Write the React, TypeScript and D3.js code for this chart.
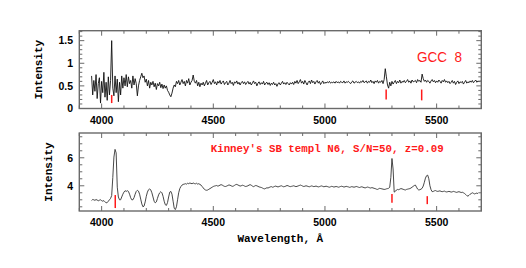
import { useEffect, useRef } from "react";
import * as d3 from "d3";

const WIDTH = 526;
const HEIGHT = 268;

// both spectra are sampled on the same grid, in Angstrom
const LAMBDA_START = 3955;
const LAMBDA_STEP = 5;
const X_DOMAIN = [3900, 5700];
const X_LABELS = [4000, 4500, 5000, 5500];

// GCC 8 observed spectrum (3955 .. 5695 A)
const gccFlux = [
  0.72, 0.30, 0.62, 0.38, 0.75, 0.22, 0.55, 0.68, 0.12, 0.60, 0.35, 0.80, 0.25, 0.58, 0.18, 0.70, 0.30, 0.62, 1.50, 0.45,
  0.28, 0.72, 0.35, 0.65, 0.15, 0.58, 0.30, 0.72, 0.45, 0.68, 0.50, 0.75, 0.48, 0.70, 0.55, 0.62, 0.45, 0.72, 0.52, 0.66,
  0.55, 0.28, 0.50, 0.62, 0.70, 0.78, 0.68, 0.72, 0.58, 0.65, 0.50, 0.62, 0.45, 0.58, 0.52, 0.60, 0.48, 0.56, 0.42, 0.55,
  0.50, 0.58, 0.46, 0.54, 0.44, 0.52, 0.45, 0.50, 0.40, 0.36, 0.30, 0.26, 0.34, 0.45, 0.52, 0.48, 0.60, 0.55, 0.62, 0.52,
  0.58, 0.64, 0.55, 0.60, 0.50, 0.62, 0.56, 0.66, 0.52, 0.58, 0.62, 0.74, 0.60, 0.56, 0.62, 0.50, 0.58, 0.48, 0.56, 0.52,
  0.58, 0.50, 0.56, 0.62, 0.52, 0.57, 0.60, 0.53, 0.58, 0.64, 0.55, 0.59, 0.52, 0.60, 0.56, 0.62, 0.54, 0.58, 0.61, 0.53,
  0.57, 0.60, 0.52, 0.56, 0.62, 0.55, 0.58, 0.51, 0.59, 0.56, 0.61, 0.54, 0.58, 0.52, 0.57, 0.60, 0.55, 0.59, 0.53, 0.57,
  0.60, 0.54, 0.58, 0.52, 0.56, 0.61, 0.55, 0.58, 0.50, 0.56, 0.59, 0.53, 0.57, 0.54, 0.60, 0.52, 0.56, 0.58, 0.53, 0.57,
  0.51, 0.56, 0.53, 0.58, 0.52, 0.55, 0.49, 0.55, 0.57, 0.52, 0.56, 0.60, 0.54, 0.57, 0.53, 0.58, 0.55, 0.52, 0.57, 0.54,
  0.58, 0.53, 0.60, 0.56, 0.62, 0.55, 0.59, 0.64, 0.56, 0.60, 0.54, 0.62, 0.57, 0.52, 0.58, 0.61, 0.55, 0.63, 0.57, 0.60,
  0.54, 0.59, 0.62, 0.56, 0.60, 0.53, 0.57, 0.61, 0.55, 0.58, 0.56, 0.59, 0.57, 0.60, 0.56, 0.58, 0.57, 0.59, 0.56, 0.60,
  0.57, 0.59, 0.56, 0.60, 0.58, 0.57, 0.61, 0.56, 0.59, 0.58, 0.60, 0.57, 0.55, 0.59, 0.61, 0.56, 0.58, 0.60, 0.57, 0.59,
  0.56, 0.60, 0.58, 0.62, 0.57, 0.59, 0.61, 0.56, 0.60, 0.58, 0.63, 0.57, 0.60, 0.55, 0.61, 0.58, 0.62, 0.56, 0.60, 0.58,
  0.62, 0.55, 0.64, 0.88, 0.70, 0.52, 0.45, 0.58, 0.50, 0.60, 0.54, 0.58, 0.62, 0.55, 0.60, 0.57, 0.63, 0.56, 0.60, 0.58,
  0.62, 0.57, 0.60, 0.64, 0.58, 0.61, 0.56, 0.63, 0.59, 0.60, 0.62, 0.57, 0.64, 0.60, 0.62, 0.58, 0.76, 0.66, 0.60, 0.63,
  0.58, 0.62, 0.60, 0.56, 0.61, 0.64, 0.59, 0.62, 0.57, 0.61, 0.58, 0.63, 0.60, 0.56, 0.62, 0.59, 0.64, 0.58, 0.61, 0.57,
  0.60, 0.55, 0.58, 0.62, 0.56, 0.60, 0.53, 0.58, 0.61, 0.55, 0.59, 0.57, 0.60, 0.54, 0.58, 0.62, 0.56, 0.59, 0.57, 0.61,
  0.58, 0.62, 0.57, 0.60, 0.63, 0.58, 0.61, 0.59, 0.62,
];

// Kinney SB template N6 redshifted to z=0.09 (3955 .. 5685 A)
const templateFlux = [
  2.95, 3.02, 3.00, 2.96, 3.02, 2.98, 2.93, 2.97, 3.00, 2.94, 2.90, 2.94, 2.86, 2.78, 2.80, 2.90, 3.00, 3.10, 3.30, 4.60,
  6.05, 6.60, 6.35, 3.90, 3.20, 3.00, 3.00, 3.20, 3.40, 3.55, 3.65, 3.60, 3.65, 3.60, 3.40, 3.15, 3.00, 3.00, 3.15, 3.40,
  3.60, 3.68, 3.62, 3.40, 3.05, 2.70, 2.50, 2.55, 2.85, 3.25, 3.55, 3.72, 3.78, 3.70, 3.50, 3.20, 2.90, 2.78, 2.85, 3.10,
  3.35, 3.50, 3.58, 3.50, 3.25, 2.90, 2.65, 2.60, 2.80, 3.20, 3.55, 3.60, 3.40, 2.90, 2.40, 2.30, 2.50, 3.00, 3.50, 3.80,
  3.95, 4.05, 4.10, 4.12, 4.15, 4.12, 4.18, 4.15, 4.20, 4.17, 4.15, 4.20, 4.16, 4.14, 4.18, 4.12, 4.15, 4.10, 4.05, 3.95,
  3.85, 3.75, 3.70, 3.68, 3.70, 3.75, 3.80, 3.85, 3.90, 3.95, 3.98, 4.00, 4.02, 3.98, 4.00, 4.05, 4.08, 4.05, 4.00, 3.96,
  3.95, 3.98, 4.02, 4.06, 4.04, 4.00, 3.96, 3.98, 4.03, 4.08, 4.10, 4.06, 4.02, 3.98, 4.00, 4.04, 4.02, 3.98, 3.95, 3.97,
  4.00, 4.05, 4.08, 4.04, 3.98, 3.94, 3.98, 4.02, 4.00, 3.96, 3.92, 3.90, 3.88, 3.84, 3.80, 3.78, 3.82, 3.86, 3.84, 3.88,
  3.92, 3.94, 3.90, 3.92, 3.96, 3.98, 3.94, 3.92, 3.95, 3.98, 4.00, 3.96, 3.93, 3.95, 3.98, 4.02, 4.00, 3.96, 3.94, 3.96,
  3.98, 4.00, 3.97, 3.94, 3.96, 3.99, 4.02, 4.05, 4.02, 3.98, 3.95, 3.97, 4.00, 3.98, 3.95, 3.93, 3.96, 3.99, 3.97, 3.94,
  3.96, 3.98, 3.95, 3.92, 3.94, 3.97, 3.99, 3.96, 3.93, 3.95, 3.97, 3.95, 3.92, 3.90, 3.93, 3.96, 3.94, 3.91, 3.93, 3.95,
  3.93, 3.90, 3.92, 3.95, 3.97, 3.94, 3.91, 3.93, 3.96, 3.94, 3.92, 3.89, 3.91, 3.94, 3.92, 3.90, 3.92, 3.95, 3.93, 3.90,
  3.88, 3.91, 3.93, 3.90, 3.87, 3.85, 3.88, 3.91, 3.89, 3.86, 3.84, 3.87, 3.85, 3.82, 3.80, 3.76, 3.74, 3.78, 3.82, 3.80,
  3.78, 3.76, 3.74, 3.75, 3.78, 3.80, 3.82, 3.90, 4.60, 5.95, 5.20, 3.55, 3.60, 3.70, 3.74, 3.72, 3.76, 3.80, 3.78, 3.75,
  3.72, 3.70, 3.74, 3.76, 3.78, 3.80, 3.84, 3.90, 3.96, 4.02, 4.05, 3.90, 3.76, 3.70, 3.72, 3.76, 3.82, 3.98, 4.25, 4.55,
  4.72, 4.76, 4.50, 4.00, 3.72, 3.58, 3.60, 3.64, 3.66, 3.62, 3.60, 3.62, 3.64, 3.60, 3.58, 3.60, 3.62, 3.58, 3.56, 3.58,
  3.60, 3.58, 3.55, 3.57, 3.60, 3.58, 3.55, 3.53, 3.56, 3.58, 3.55, 3.52, 3.54, 3.50, 3.45, 3.38, 3.30, 3.26, 3.32, 3.40,
  3.45, 3.50, 3.46, 3.42, 3.45, 3.48, 3.44,
];

// emission line markers ([OII], Hbeta, [OIII]) : wavelength and y extent
const gccLines = [4045, 5274, 5433];
const gccLineSpans = [[0.12, 0.30], [0.20, 0.42], [0.18, 0.42]];
const templLines = [4061, 5300, 5458];
const templLineSpans = [[2.41, 3.34], [2.79, 3.41], [2.69, 3.26]];

const gccYLabels = [0, 0.5, 1, 1.5];
const templYLabels = [4, 6];

const LEFT = 79.3;
const RIGHT = 481.3;
const RED = "#ff1a1a";
const FRAME = "#6a6a6a";

function drawPanel(svg, opts) {
  const { top, bottom, yDomain, flux, lineColor, lines, spans, yLabels, yMinor, yMajor, yLabelX } = opts;

  const x = d3.scaleLinear().domain(X_DOMAIN).range([LEFT, RIGHT]);
  const y = d3.scaleLinear().domain(yDomain).range([bottom, top]);

  const g = svg.append("g");

  // spectrum
  const line = d3
    .line()
    .x((d, i) => x(LAMBDA_START + i * LAMBDA_STEP))
    .y(d => y(d));

  g.append("path")
    .datum(flux)
    .attr("fill", "none")
    .attr("stroke", lineColor)
    .attr("stroke-width", 0.9)
    .attr("stroke-linejoin", "round")
    .attr("d", line);

  // frame
  g.append("rect")
    .attr("x", LEFT)
    .attr("y", top)
    .attr("width", RIGHT - LEFT)
    .attr("height", bottom - top)
    .attr("fill", "none")
    .attr("stroke", FRAME)
    .attr("stroke-width", 1.4);

  // x ticks, inward on bottom and top
  d3.range(X_DOMAIN[0], X_DOMAIN[1] + 1, 100).forEach(v => {
    const len = v % 500 === 0 ? 5 : 3;
    const px = x(v);
    g.append("line").attr("x1", px).attr("x2", px).attr("y1", bottom).attr("y2", bottom - len)
      .attr("stroke", FRAME).attr("stroke-width", 1);
    g.append("line").attr("x1", px).attr("x2", px).attr("y1", top).attr("y2", top + len)
      .attr("stroke", FRAME).attr("stroke-width", 1);
  });

  // y ticks, inward on left and right
  const first = Math.ceil(yDomain[0] / yMinor - 1e-6) * yMinor;
  d3.range(first, yDomain[1] + 1e-6, yMinor).forEach(v => {
    const major = Math.abs(v / yMajor - Math.round(v / yMajor)) < 1e-6;
    const len = major ? 5 : 3;
    const py = y(v);
    g.append("line").attr("x1", LEFT).attr("x2", LEFT + len).attr("y1", py).attr("y2", py)
      .attr("stroke", FRAME).attr("stroke-width", 1);
    g.append("line").attr("x1", RIGHT).attr("x2", RIGHT - len).attr("y1", py).attr("y2", py)
      .attr("stroke", FRAME).attr("stroke-width", 1);
  });

  // tick labels
  X_LABELS.forEach(v => {
    g.append("text")
      .attr("x", x(v))
      .attr("y", bottom + 15)
      .attr("text-anchor", "middle")
      .style("font-family", "'Liberation Sans', Arial, sans-serif")
      .style("font-weight", "bold")
      .style("font-size", "10.5px")
      .text(v);
  });

  yLabels.forEach(v => {
    g.append("text")
      .attr("x", 73)
      .attr("y", y(v))
      .attr("dy", "0.36em")
      .attr("text-anchor", "end")
      .style("font-family", "'Liberation Sans', Arial, sans-serif")
      .style("font-weight", "bold")
      .style("font-size", "10.5px")
      .text(v);
  });

  g.append("text")
    .attr("transform", `translate(${yLabelX},${(top + bottom) / 2}) rotate(-90)`)
    .attr("text-anchor", "middle")
    .attr("dy", "0.35em")
    .style("font-family", "'Liberation Mono', 'Courier New', monospace")
    .style("font-weight", "bold")
    .style("font-size", "11px")
    .text("Intensity");

  // emission line markers
  lines.forEach((w, i) => {
    g.append("line")
      .attr("x1", x(w))
      .attr("x2", x(w))
      .attr("y1", y(spans[i][0]))
      .attr("y2", y(spans[i][1]))
      .attr("stroke", RED)
      .attr("stroke-width", 1.5);
  });

  return { x, y, g };
}

export default function App() {
  const svgRef = useRef(null);

  useEffect(() => {
    if (!svgRef.current) return;
    const svg = d3.select(svgRef.current);
    svg.selectAll("*").remove();

    const topPanel = drawPanel(svg, {
      top: 30.7,
      bottom: 108.5,
      yDomain: [0, 1.72],
      flux: gccFlux,
      lineColor: "#111",
      lines: gccLines,
      spans: gccLineSpans,
      yLabels: gccYLabels,
      yMinor: 0.1,
      yMajor: 0.5,
      yLabelX: 38,
    });

    topPanel.g.append("text")
      .attr("x", 417)
      .attr("y", 61.5)
      .attr("textLength", 45)
      .attr("lengthAdjust", "spacingAndGlyphs")
      .style("font-family", "'Liberation Sans', Arial, sans-serif")
      .style("font-size", "15px")
      .style("fill", RED)
      .style("white-space", "pre")
      .text("GCC  8");

    const botPanel = drawPanel(svg, {
      top: 133,
      bottom: 211,
      yDomain: [2.2, 7.77],
      flux: templateFlux,
      lineColor: "#333",
      lines: templLines,
      spans: templLineSpans,
      yLabels: templYLabels,
      yMinor: 0.5,
      yMajor: 2,
      yLabelX: 48,
    });

    botPanel.g.append("text")
      .attr("x", 210.7)
      .attr("y", 152)
      .attr("textLength", 233)
      .attr("lengthAdjust", "spacingAndGlyphs")
      .style("font-family", "'Liberation Mono', 'Courier New', monospace")
      .style("font-weight", "bold")
      .style("font-size", "11px")
      .style("fill", RED)
      .text("Kinney's SB templ N6, S/N=50, z=0.09");

    svg.append("text")
      .attr("x", (LEFT + RIGHT) / 2)
      .attr("y", 242)
      .attr("text-anchor", "middle")
      .style("font-family", "'Liberation Mono', 'Courier New', monospace")
      .style("font-weight", "bold")
      .style("font-size", "11px")
      .text("Wavelength, Å");
  }, []);

  return (
    <div style={{ position: "absolute", left: 0, top: 0 }}>
      <svg ref={svgRef} width={WIDTH} height={HEIGHT} style={{ display: "block", background: "#fff" }}></svg>
    </div>
  );
}
